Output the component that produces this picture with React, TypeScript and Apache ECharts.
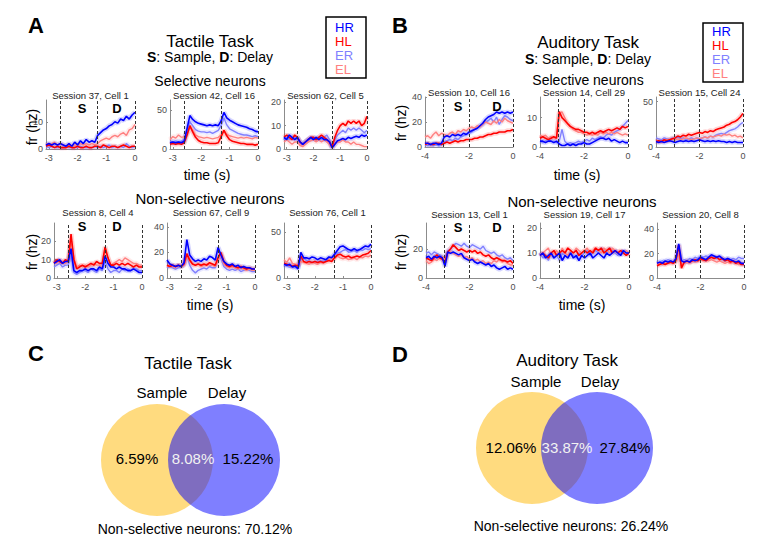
import React, { useEffect, useRef } from "react";
import * as echarts from "echarts";

// ---------- time bases ----------
const TA = [-3.1, -3.0, -2.9, -2.8, -2.7, -2.6, -2.5, -2.4, -2.3, -2.2, -2.1, -2.0, -1.9, -1.8, -1.7, -1.6, -1.5, -1.4, -1.3, -1.2, -1.1, -1.0, -0.9, -0.8, -0.7, -0.6, -0.5, -0.4, -0.3, -0.2, -0.1, 0];
const TB = [-4, -3.875, -3.75, -3.625, -3.5, -3.375, -3.25, -3.125, -3, -2.875, -2.75, -2.625, -2.5, -2.375, -2.25, -2.125, -2, -1.875, -1.75, -1.625, -1.5, -1.375, -1.25, -1.125, -1, -0.875, -0.75, -0.625, -0.5, -0.375, -0.25, -0.125, 0];

const TICKS_A = [-3, -2, -1, 0];
const TICKS_B = [-4, -2, 0];
const EVENTS_A = [-2.6, -1.3, 0];
const EVENTS_B = [-3.15, -2, 0];

const CONDITIONS = ["HR", "HL", "ER", "EL"];

// ---------- Panel A (tactile) ----------
const A1_HR = [1.5, 2, 1.5, 2, 1.5, 2, 1.5, 1, 2, 1, 2.5, 1.5, 3, 2, 3.5, 2.5, 3, 2.5, 5, 6, 7, 7.5, 8.5, 9, 10, 9.5, 11, 10.5, 12, 11, 12.5, 13.5];
const A1_HL = [1, 1.5, 1, 0.5, 1, 0.5, 0.5, 0.5, 1, 0.5, 0.5, 1, 0.5, 0.5, 1, 0.5, 0.5, 1, 1, 0.5, 1.5, 1, 0.5, 1, 1, 0.5, 1, 1.5, 1, 0.5, 1, 1];
const A1_ER = [1, 0.5, 1, 0.5, 0.5, 0.5, 0.5, 1, 0.5, 0.5, 0.5, 0.5, 1, 0.5, 0.5, 0.5, 0.5, 1, 0.5, 1, 0.5, 1, 1.5, 0.5, 1, 0.5, 1, 0.5, 2, 1, 0.5, 1];
const A1_EL = [2, 1.5, 2, 2.5, 1.5, 2, 1.5, 1, 1.5, 1, 1.5, 1.5, 2, 1.5, 2, 1.5, 2, 1.5, 2, 3, 3.5, 4, 3.5, 4.5, 5, 4.5, 5.5, 6, 5, 7, 7.5, 9];

const A2_HR = [8, 9, 8, 9, 8, 10, 26, 43, 38, 35, 33, 32, 31, 30, 31, 30, 31, 30, 36, 47, 40, 37, 35, 33, 31, 30, 29, 28, 26, 25, 23, 22];
const A2_HL = [6, 7, 6, 7, 6, 8, 18, 30, 22, 15, 11, 9, 8, 8, 7, 7, 7, 8, 16, 24, 17, 12, 10, 9, 8, 7, 7, 6, 6, 6, 5, 6];
const A2_ER = [10, 9, 10, 9, 10, 12, 22, 35, 30, 25, 23, 22, 22, 21, 22, 20, 22, 24, 30, 40, 31, 26, 24, 22, 20, 19, 18, 18, 17, 16, 17, 16];
const A2_EL = [12, 16, 14, 18, 15, 16, 20, 28, 24, 18, 16, 15, 14, 15, 14, 13, 14, 15, 18, 24, 19, 17, 16, 15, 14, 15, 14, 15, 14, 13, 15, 14];

const A3_HR = [5, 4, 6, 5, 4, 5, 3, 2, 3, 4, 5, 4, 5, 4, 5, 4, 4, 3, 0.5, 2, 3.5, 4, 4.5, 4, 5, 4.5, 5, 5.5, 5, 6, 5.5, 6];
const A3_HL = [5, 6, 5, 4, 6, 5, 3, 2, 3, 4, 5, 5, 4, 5, 6, 5, 4, 3, 1, 5, 8, 10, 11, 10, 12, 11, 12, 11, 12, 10, 11, 14];
const A3_ER = [4, 5, 4, 5, 5, 4, 3, 2.5, 3, 4, 4, 5, 4, 5, 4, 5, 6, 4, 1, 4, 6, 7, 8, 7, 9, 8, 9, 8, 9, 8, 7, 8];
const A3_EL = [3, 4, 3, 2, 3, 3, 1.5, 1, 2, 3, 3.5, 4, 3, 4, 3, 4, 3, 2, 0.5, 2, 3, 3, 4, 3, 3, 2, 3, 2, 2, 1.5, 1, 1];

const A4_HR = [8, 9, 10, 8, 9, 9, 16, 4, 3, 4, 4, 5, 4, 5, 5, 4, 6, 5, 12, 8, 6, 6, 5, 6, 5, 5, 4, 4, 5, 4, 3, 3];
const A4_HL = [8, 10, 9, 8, 10, 9, 24, 10, 5, 6, 7, 6, 7, 8, 7, 9, 8, 8, 17, 11, 7, 7, 8, 7, 8, 7, 8, 7, 6, 7, 6, 6];
const A4_ER = [6, 7, 8, 6, 7, 7, 12, 3, 2, 3, 4, 4, 3, 5, 4, 3, 5, 4, 9, 5, 3, 4, 4, 3, 5, 4, 5, 4, 5, 5, 4, 4];
const A4_EL = [9, 8, 10, 9, 8, 9, 20, 11, 6, 7, 6, 7, 6, 7, 8, 7, 7, 6, 15, 11, 7, 8, 9, 10, 9, 11, 10, 9, 8, 8, 7, 7];

const A5_HR = [14, 11, 10, 9, 10, 9, 12, 30, 18, 15, 13, 14, 13, 15, 14, 17, 16, 14, 24, 18, 13, 11, 10, 11, 9, 10, 8, 9, 8, 8, 7, 7];
const A5_HL = [10, 9, 10, 9, 10, 9, 11, 19, 14, 11, 10, 11, 10, 11, 10, 12, 11, 10, 16, 20, 13, 10, 9, 10, 9, 8, 9, 8, 7, 8, 7, 7];
const A5_ER = [8, 9, 8, 7, 8, 9, 10, 18, 10, 6, 4, 6, 7, 8, 7, 9, 8, 8, 15, 16, 9, 7, 6, 7, 6, 7, 5, 6, 7, 6, 5, 5];
const A5_EL = [9, 10, 9, 8, 10, 9, 10, 17, 13, 11, 10, 11, 9, 10, 11, 10, 10, 9, 14, 18, 11, 9, 8, 9, 8, 7, 8, 7, 6, 7, 6, 6];

const A6_HR = [15, 14, 15, 12, 13, 10, 28, 22, 22, 21, 23, 22, 20, 22, 21, 20, 23, 22, 26, 30, 34, 35, 33, 31, 30, 32, 30, 31, 33, 35, 34, 37];
const A6_HL = [16, 15, 14, 13, 14, 13, 24, 18, 17, 18, 17, 18, 17, 18, 17, 18, 19, 18, 22, 25, 26, 24, 23, 24, 22, 23, 24, 23, 25, 26, 27, 30];
const A6_ER = [14, 13, 12, 12, 11, 12, 20, 22, 19, 18, 17, 18, 17, 19, 18, 20, 21, 22, 25, 27, 28, 30, 31, 28, 29, 30, 28, 31, 30, 32, 31, 32];
const A6_EL = [20, 17, 22, 16, 15, 14, 18, 17, 16, 15, 17, 16, 15, 17, 16, 18, 20, 22, 21, 24, 22, 21, 22, 20, 21, 22, 20, 23, 22, 24, 23, 25];

// ---------- Panel B (auditory) ----------
const B1_HR = [3, 3, 2, 3, 3, 2, 3, 8, 9, 8, 10, 9, 10, 9, 11, 10, 12, 13, 14, 15, 17, 19, 22, 24, 25, 26, 28, 27, 28, 27, 28, 27, 28];
const B1_HL = [2, 3, 2, 2, 3, 3, 2, 3, 4, 3, 4, 5, 4, 5, 5, 6, 6, 6, 7, 7, 8, 8, 9, 10, 10, 11, 11, 12, 12, 12, 13, 13, 14];
const B1_ER = [2, 1, 2, 1, 2, 1, 2, 4, 5, 6, 5, 7, 6, 8, 9, 10, 11, 12, 14, 15, 17, 18, 20, 21, 23, 20, 24, 18, 22, 25, 24, 22, 21];
const B1_EL = [8, 9, 7, 10, 12, 9, 11, 10, 9, 11, 12, 10, 13, 12, 14, 13, 15, 16, 15, 17, 16, 18, 20, 19, 18, 21, 19, 22, 20, 23, 21, 20, 19];

const B2_HR = [2, 2, 1.5, 2, 2, 1.5, 2, 1, 0.5, 0.5, 1, 0.5, 1, 0.5, 1, 1, 1.5, 1, 1, 1.5, 2, 2.5, 3, 3, 2.5, 3, 2, 2.5, 2, 1.5, 2, 1.5, 1.5];
const B2_HL = [3, 3.5, 3, 2.5, 3, 3.5, 3, 12, 10, 9, 8, 7, 6.5, 6, 6, 5.5, 5, 5, 4.5, 5, 4.5, 5, 5.5, 5, 5.5, 6, 5.5, 6, 6.5, 6, 7, 6.5, 7];
const B2_ER = [2, 1.5, 2, 2.5, 2, 2, 1.5, 2, 6, 2, 1, 1.5, 1, 1.5, 2, 1.5, 2, 2.5, 2, 3, 2.5, 3, 3.5, 3, 4, 4.5, 4, 5, 5.5, 6, 7, 8, 9];
const B2_EL = [4, 3.5, 4, 3, 3.5, 3, 3.5, 11, 12, 10, 8, 7, 6, 5.5, 5, 5, 4.5, 4, 4.5, 4, 4.5, 4, 5, 4.5, 5, 4.5, 5, 4.5, 5, 4.5, 4, 4.5, 4];

const B3_HR = [6, 5, 6, 5, 6, 7, 6, 5, 6, 7, 6, 7, 6, 7, 6, 7, 8, 7, 6, 7, 6, 7, 6, 7, 6, 6, 5, 6, 5, 6, 5, 5, 5];
const B3_HL = [6, 7, 6, 8, 7, 8, 9, 10, 12, 11, 13, 12, 14, 13, 14, 15, 16, 15, 17, 16, 18, 17, 19, 20, 21, 22, 24, 25, 27, 28, 30, 33, 37];
const B3_ER = [10, 9, 8, 10, 9, 8, 10, 9, 11, 9, 10, 8, 9, 10, 9, 10, 9, 10, 11, 10, 12, 11, 13, 14, 15, 14, 16, 18, 19, 20, 22, 25, 27];
const B3_EL = [6, 7, 6, 7, 8, 7, 9, 8, 9, 8, 9, 10, 9, 8, 9, 10, 9, 10, 11, 10, 12, 11, 12, 13, 12, 14, 13, 14, 12, 13, 11, 12, 10];

const B4_HR = [14, 15, 13, 15, 14, 15, 14, 8, 18, 17, 18, 17, 16, 17, 14, 13, 12, 13, 11, 10, 11, 10, 9, 10, 8, 9, 7, 6, 7, 8, 6, 7, 6];
const B4_HL = [14, 13, 12, 14, 16, 14, 13, 11, 18, 20, 23, 21, 19, 20, 19, 18, 19, 18, 19, 17, 18, 16, 15, 16, 14, 13, 14, 13, 12, 12, 11, 12, 10];
const B4_ER = [17, 18, 16, 18, 17, 16, 15, 14, 19, 20, 22, 24, 23, 22, 24, 22, 21, 23, 22, 21, 20, 22, 19, 18, 17, 18, 16, 15, 16, 14, 13, 14, 12];
const B4_EL = [12, 10, 11, 13, 12, 14, 15, 13, 17, 18, 17, 16, 15, 16, 14, 15, 13, 14, 12, 13, 11, 12, 10, 11, 10, 12, 11, 13, 11, 12, 10, 9, 9];

const B5_HR = [9, 10, 8, 9, 10, 8, 9, 10, 7, 9, 8, 10, 8, 9, 7, 9, 8, 9, 10, 8, 9, 10, 9, 8, 10, 9, 10, 11, 10, 9, 11, 10, 10];
const B5_HL = [9, 10, 9, 8, 10, 11, 9, 10, 11, 10, 12, 11, 10, 11, 9, 10, 11, 10, 11, 10, 12, 11, 12, 10, 11, 12, 10, 11, 10, 11, 10, 9, 10];
const B5_ER = [10, 8, 9, 7, 10, 8, 9, 7, 10, 9, 8, 10, 9, 8, 10, 9, 10, 11, 9, 10, 11, 10, 12, 11, 10, 12, 11, 10, 9, 10, 11, 10, 10];
const B5_EL = [9, 10, 11, 12, 9, 10, 11, 9, 12, 10, 9, 11, 10, 12, 11, 10, 11, 12, 10, 11, 12, 11, 10, 12, 11, 10, 12, 11, 10, 11, 10, 11, 10];

const B6_HR = [12, 13, 12, 14, 13, 14, 13, 16, 28, 14, 13, 14, 13, 15, 14, 15, 17, 16, 15, 17, 19, 18, 17, 18, 16, 15, 16, 15, 14, 13, 14, 12, 12];
const B6_HL = [10, 11, 12, 11, 12, 13, 12, 15, 27, 8, 13, 14, 13, 14, 15, 14, 16, 15, 14, 16, 17, 16, 17, 15, 16, 14, 15, 13, 14, 12, 13, 11, 11];
const B6_ER = [12, 13, 14, 13, 15, 14, 13, 14, 20, 14, 15, 14, 16, 15, 17, 16, 18, 17, 18, 17, 18, 17, 16, 17, 16, 15, 16, 15, 16, 15, 17, 16, 16];
const B6_EL = [11, 12, 11, 12, 13, 12, 12, 13, 20, 10, 12, 13, 12, 14, 13, 14, 15, 14, 15, 14, 15, 14, 13, 14, 13, 12, 13, 12, 13, 12, 11, 12, 11];

// ---------- Venn percentages ----------
const VENN_SETS = ["Sample", "Delay"];
const TACTILE_PCT = [6.59, 8.08, 15.22];
const TACTILE_NON = 70.12;
const AUDITORY_PCT = [12.06, 33.87, 27.84];
const AUDITORY_NON = 26.24;

// ---------- layout/styling ----------
const FF = "'Liberation Sans', Arial, sans-serif";
const COLORS = ["#0000ff", "#ff0000", "#8080ff", "#ff8080"];
const DRAW_ORDER = [2, 3, 1, 0];
const AX = "#8c8c8c";
const LAB = "#4d4d4d";

const PANELS = [
  { title: "Session 37, Cell 1", ty: 95, t: TA, d: [A1_HR, A1_HL, A1_ER, A1_EL], g: [46, 100, 89, 49], xMin: -3.1, xt: TICKS_A, ev: EVENTS_A, yMax: 18, yt: [0, 10] },
  { title: "Session 42, Cell 16", ty: 95, t: TA, d: [A2_HR, A2_HL, A2_ER, A2_EL], g: [170, 100, 88, 49], xMin: -3.1, xt: TICKS_A, ev: EVENTS_A, yMax: 63, yt: [0, 50] },
  { title: "Session 62, Cell 5", ty: 95, t: TA, d: [A3_HR, A3_HL, A3_ER, A3_EL], g: [284, 100, 83, 49], xMin: -3.1, xt: TICKS_A, ev: EVENTS_A, yMax: 21, yt: [0, 10, 20] },
  { title: "Session 8, Cell 4", ty: 212.5, t: TA, d: [A4_HR, A4_HL, A4_ER, A4_EL], g: [54, 223, 88, 55], xMin: -3.1, xt: TICKS_A, ev: EVENTS_A, yMax: 30, yt: [0, 10, 20] },
  { title: "Session 67, Cell 9", ty: 212.5, t: TA, d: [A5_HR, A5_HL, A5_ER, A5_EL], g: [167, 223, 88, 55], xMin: -3.1, xt: TICKS_A, ev: EVENTS_A, yMax: 43, yt: [0, 20, 40] },
  { title: "Session 76, Cell 1", ty: 212.5, t: TA, d: [A6_HR, A6_HL, A6_ER, A6_EL], g: [284, 223, 87, 55], xMin: -3.1, xt: TICKS_A, ev: EVENTS_A, yMax: 60, yt: [0, 50] },
  { title: "Session 10, Cell 16", ty: 92, t: TB, d: [B1_HR, B1_HL, B1_ER, B1_EL], g: [425, 97, 88, 50], xMin: -4, xt: TICKS_B, ev: EVENTS_B, yMax: 40, yt: [0, 20, 40] },
  { title: "Session 14, Cell 29", ty: 92, t: TB, d: [B2_HR, B2_HL, B2_ER, B2_EL], g: [540, 97, 88, 50], xMin: -4, xt: TICKS_B, ev: EVENTS_B, yMax: 17, yt: [0, 10] },
  { title: "Session 15, Cell 24", ty: 92, t: TB, d: [B3_HR, B3_HL, B3_ER, B3_EL], g: [656, 97, 87, 50], xMin: -4, xt: TICKS_B, ev: EVENTS_B, yMax: 55, yt: [0, 50] },
  { title: "Session 13, Cell 1", ty: 214, t: TB, d: [B4_HR, B4_HL, B4_ER, B4_EL], g: [426, 223, 87, 55], xMin: -4, xt: TICKS_B, ev: EVENTS_B, yMax: 38, yt: [0, 20] },
  { title: "Session 19, Cell 17", ty: 214, t: TB, d: [B5_HR, B5_HL, B5_ER, B5_EL], g: [540, 223, 89, 55], xMin: -4, xt: TICKS_B, ev: EVENTS_B, yMax: 22, yt: [0, 10, 20] },
  { title: "Session 20, Cell 8", ty: 214, t: TB, d: [B6_HR, B6_HL, B6_ER, B6_EL], g: [657, 223, 87, 55], xMin: -4, xt: TICKS_B, ev: EVENTS_B, yMax: 45, yt: [0, 20, 40] },
];

function txt(x: number, y: number, text: string, size: number, extra: any = {}, el: any = {}) {
  return {
    type: "text",
    x,
    y,
    z: 20,
    ...el,
    style: { text, fontSize: size, fontFamily: FF, fill: "#000", align: "center", verticalAlign: "middle", ...extra },
  };
}

function fmt(v: number) {
  return v.toFixed(2) + "%";
}

export default function App() {
  const ref = useRef<HTMLDivElement>(null);
  useEffect(() => {
    if (!ref.current) return;
    const chart = echarts.init(ref.current, null, { renderer: "svg" });
    const grid: any[] = [];
    const xAxis: any[] = [];
    const yAxis: any[] = [];
    const series: any[] = [];
    const graphic: any[] = [];

    PANELS.forEach((p, i) => {
      grid.push({ left: p.g[0], top: p.g[1], width: p.g[2], height: p.g[3], containLabel: false, outerBoundsMode: "none" });
      xAxis.push({
        gridIndex: i, type: "value", min: p.xMin, max: 0,
        axisLine: { show: true, onZero: false, lineStyle: { color: AX, width: 1 } },
        axisTick: { show: true, inside: true, length: 2, customValues: p.xt, lineStyle: { color: AX } },
        axisLabel: { customValues: p.xt, fontSize: 9, color: LAB, margin: 4, fontFamily: FF },
        splitLine: { show: false },
      });
      yAxis.push({
        gridIndex: i, type: "value", min: 0, max: p.yMax,
        axisLine: { show: true, onZero: false, lineStyle: { color: AX, width: 1 } },
        axisTick: { show: true, inside: true, length: 2, customValues: p.yt, lineStyle: { color: AX } },
        axisLabel: { customValues: p.yt, fontSize: 9, color: LAB, margin: 3, fontFamily: FF },
        splitLine: { show: false },
      });
      DRAW_ORDER.forEach((c, k) => {
        const data = p.t.map((t, j) => [t, p.d[c][j]]);
        series.push({
          type: "line", name: CONDITIONS[c], xAxisIndex: i, yAxisIndex: i, data,
          symbol: "none", showSymbol: false, silent: true, z: 1,
          lineStyle: { color: COLORS[c], width: 5, opacity: 0.16 },
          markLine: k === 0 ? {
            silent: true, symbol: ["none", "none"], label: { show: false },
            lineStyle: { type: [3, 2], color: "#333", width: 1 },
            data: p.ev.map((e) => ({ xAxis: e })),
          } : undefined,
        });
        series.push({
          type: "line", name: CONDITIONS[c], xAxisIndex: i, yAxisIndex: i, data,
          symbol: "none", showSymbol: false, silent: true, z: 3,
          lineStyle: { color: COLORS[c], width: c < 2 ? 1.6 : 1.4 },
        });
      });
      graphic.push(txt(p.g[0] + p.g[2] / 2, p.ty, p.title, 9.5, { fill: "#222" }));
    });

    // S / D labels
    const SD = [
      [82, 108, 117, 108],
      [82, 226, 117, 226],
      [458, 106, 497, 106],
      [458, 227, 497, 227],
    ];
    SD.forEach((s) => {
      graphic.push(txt(s[0], s[1], "S", 13, { fontWeight: "bold" }));
      graphic.push(txt(s[2], s[3], "D", 13, { fontWeight: "bold" }));
    });

    // headers panel A
    graphic.push(txt(36, 25, "A", 22, { fontWeight: "bold" }));
    graphic.push(txt(210, 41, "Tactile Task", 17));
    graphic.push(txt(210, 57, "{b|S}: Sample, {b|D}: Delay", 14, { rich: { b: { fontWeight: "bold", fontSize: 14, fontFamily: FF } } }));
    graphic.push(txt(210, 81, "Selective neurons", 14));
    graphic.push(txt(207, 175, "time (s)", 14));
    graphic.push(txt(210, 198, "Non-selective neurons", 15));
    graphic.push(txt(210, 305, "time (s)", 14));
    graphic.push(txt(32, 127, "fr (hz)", 14, {}, { rotation: Math.PI / 2 }));
    graphic.push(txt(32, 252, "fr (hz)", 14, {}, { rotation: Math.PI / 2 }));

    // headers panel B
    graphic.push(txt(400, 25, "B", 22, { fontWeight: "bold" }));
    graphic.push(txt(588, 42, "Auditory Task", 17));
    graphic.push(txt(588, 59, "{b|S}: Sample, {b|D}: Delay", 14, { rich: { b: { fontWeight: "bold", fontSize: 14, fontFamily: FF } } }));
    graphic.push(txt(588, 80, "Selective neurons", 14));
    graphic.push(txt(577, 175, "time (s)", 14));
    graphic.push(txt(582, 201, "Non-selective neurons", 15));
    graphic.push(txt(582, 305, "time (s)", 14));
    graphic.push(txt(401, 123, "fr (hz)", 14, {}, { rotation: Math.PI / 2 }));
    graphic.push(txt(401, 252, "fr (hz)", 14, {}, { rotation: Math.PI / 2 }));

    // legends
    const legends = [
      { box: [326, 17, 40, 61], x: 335, ys: [27, 41, 55, 69] },
      { box: [703, 23, 40, 59], x: 712, ys: [31.5, 45.5, 59.5, 73.5] },
    ];
    legends.forEach((lg) => {
      graphic.push({ type: "rect", z: 15, shape: { x: lg.box[0], y: lg.box[1], width: lg.box[2], height: lg.box[3] }, style: { fill: "#fff", stroke: "#000", lineWidth: 1.5 } });
      CONDITIONS.forEach((c, i) => {
        graphic.push(txt(lg.x, lg.ys[i], c, 13, { fill: COLORS[i], align: "left" }));
      });
    });

    // Venn diagrams
    const venns = [
      { letter: "C", lx: 36, ly: 353, title: "Tactile Task", tx: 188, tty: 363, setY: 392, setX: [162, 227], c1: [157, 460], c2: [224, 460], r: 56, pct: TACTILE_PCT, px: [137, 193, 248], py: 458, non: TACTILE_NON, nx: 195, ny: 529 },
      { letter: "D", lx: 400, ly: 354, title: "Auditory Task", tx: 567, tty: 360, setY: 381, setX: [536, 600], c1: [532, 448], c2: [597, 448], r: 56, pct: AUDITORY_PCT, px: [511, 567, 625], py: 447, non: AUDITORY_NON, nx: 571, ny: 526 },
    ];
    venns.forEach((v) => {
      graphic.push(txt(v.lx, v.ly, v.letter, 22, { fontWeight: "bold" }));
      graphic.push(txt(v.tx, v.tty, v.title, 17));
      graphic.push(txt(v.setX[0], v.setY, VENN_SETS[0], 15));
      graphic.push(txt(v.setX[1], v.setY, VENN_SETS[1], 15));
      graphic.push({ type: "circle", z: 5, shape: { cx: v.c1[0], cy: v.c1[1], r: v.r }, style: { fill: "rgba(255,183,0,0.5)" } });
      graphic.push({ type: "circle", z: 6, shape: { cx: v.c2[0], cy: v.c2[1], r: v.r }, style: { fill: "rgba(0,0,255,0.5)" } });
      graphic.push(txt(v.px[0], v.py, fmt(v.pct[0]), 15));
      graphic.push(txt(v.px[1], v.py, fmt(v.pct[1]), 15, { fill: "#f2f2f2" }));
      graphic.push(txt(v.px[2], v.py, fmt(v.pct[2]), 15));
      graphic.push(txt(v.nx, v.ny, "Non-selective neurons: " + fmt(v.non), 14));
    });

    chart.setOption({
      animation: false,
      backgroundColor: "#fff",
      grid,
      xAxis,
      yAxis,
      series,
      graphic: { elements: graphic },
    });
    return () => chart.dispose();
  }, []);
  return <div ref={ref} style={{ position: "absolute", left: 0, top: 0, width: 770, height: 546 }} />;
}
